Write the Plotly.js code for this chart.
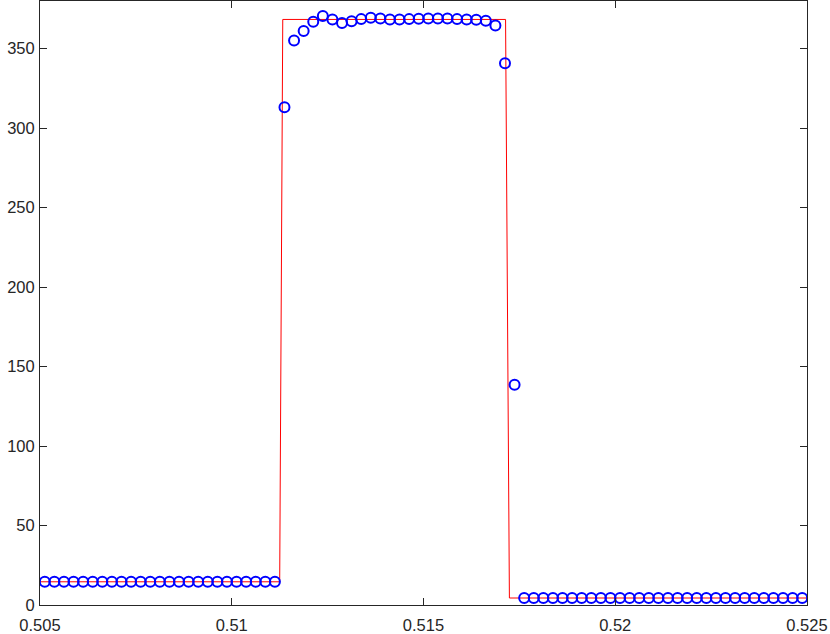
<!DOCTYPE html>
<html>
<head>
<meta charset="utf-8">
<script src="https://cdn.plot.ly/plotly-3.0.1.min.js"></script>
<style>
  html, body { margin: 0; padding: 0; background: #fff; }
  #plot { width: 830px; height: 634px; }
</style>
</head>
<body>
<div id="plot"></div>
<script>
// numerical solution, one value per cell centre (dx = 0.00025)
var cellStart = 0.505125;
var cellStep = 0.00025;
var numeric = [
  14.6, 14.6, 14.6, 14.6, 14.6, 14.6, 14.6, 14.6, 14.6, 14.6,
  14.6, 14.6, 14.6, 14.6, 14.6, 14.6, 14.6, 14.6, 14.6, 14.6,
  14.6, 14.6, 14.6, 14.6, 14.6,
  313.1, 355.2, 361.1, 367.0, 370.5, 368.4, 366.1, 367.2, 368.6, 369.5,
  369.0, 368.4, 368.4, 368.6, 368.8, 369.0, 369.0, 369.0, 368.6, 368.4,
  368.2, 367.6, 364.6, 340.9,
  138.5,
  4.4, 4.4, 4.4, 4.4, 4.4, 4.4, 4.4, 4.4, 4.4, 4.4,
  4.4, 4.4, 4.4, 4.4, 4.4, 4.4, 4.4, 4.4, 4.4, 4.4,
  4.4, 4.4, 4.4, 4.4, 4.4, 4.4, 4.4, 4.4, 4.4, 4.4
];
var numericX = [];
for (var i = 0; i < numeric.length; i++) {
  numericX.push(cellStart + i * cellStep);
}

// exact solution
var exactX = [0.505, 0.51125, 0.51133, 0.51714, 0.51724, 0.525];
var exactY = [14.6, 14.6, 368.4, 368.4, 4.4, 4.4];

var xTicks = [0.505, 0.51, 0.515, 0.52, 0.525];
var xTickText = ['0.505', '0.51', '0.515', '0.52', '0.525'];
var yTicks = [0, 50, 100, 150, 200, 250, 300, 350];

var exact = {
  x: exactX,
  y: exactY,
  mode: 'lines',
  line: { color: '#ff0000', width: 1 },
  hoverinfo: 'skip'
};
var num = {
  x: numericX,
  y: numeric,
  mode: 'markers',
  marker: { symbol: 'circle-open', size: 10, color: '#0000ff', line: { width: 2, color: '#0000ff' } }
};

var axisStyle = {
  showline: true,
  linecolor: '#262626',
  linewidth: 1,
  mirror: 'ticks',
  ticks: 'inside',
  ticklen: 7,
  tickcolor: '#262626',
  tickwidth: 1,
  showgrid: false,
  zeroline: false,
  fixedrange: true,
  tickfont: { family: 'Liberation Sans, Arial, sans-serif', size: 16.5, color: '#262626' }
};

var layout = {
  width: 830,
  height: 634,
  margin: { l: 40, r: 23, t: 1, b: 29 },
  paper_bgcolor: '#fff',
  plot_bgcolor: '#fff',
  showlegend: false,
  xaxis: Object.assign({}, axisStyle, {
    range: [0.505, 0.525],
    tickvals: xTicks,
    ticktext: xTickText,
    ticklabelstandoff: 5
  }),
  yaxis: Object.assign({}, axisStyle, {
    range: [0, 380],
    tickvals: yTicks,
    ticklabelstandoff: 1
  })
};

Plotly.newPlot('plot', [exact, num], layout, { displayModeBar: false, staticPlot: true });
</script>
</body>
</html>
